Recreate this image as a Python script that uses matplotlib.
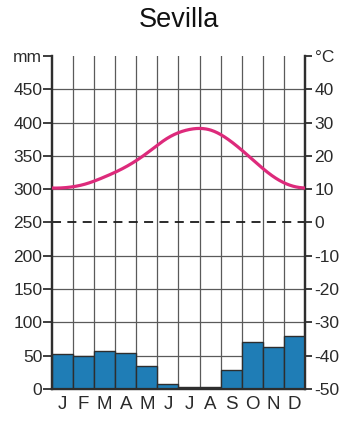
import numpy as np
import matplotlib
matplotlib.use("Agg")
import matplotlib.pyplot as plt

plt.rcParams["font.family"] = ["Liberation Sans", "DejaVu Sans"]

months = ["J", "F", "M", "A", "M", "J", "J", "A", "S", "O", "N", "D"]
precip = [52, 49, 57, 54, 35, 8, 3, 3, 28, 71, 63, 80]
temp = [10.4, 11.4, 13.7, 16.7, 20.8, 25.4, 27.9, 27.8, 24.3, 19.0, 13.8, 10.8]
mm_ticks = [0, 50, 100, 150, 200, 250, 300, 350, 400, 450, 500]
mm_labels = ["0", "50", "100", "150", "200", "250", "300", "350", "400", "450", "mm"]
c_ticks = [-50, -40, -30, -20, -10, 0, 10, 20, 30, 40, 50]
c_labels = ["-50", "-40", "-30", "-20", "-10", "0", "10", "20", "30", "40", "°C"]

txt = "#2a2a2a"
grid = "#5a5a5a"


def periodic_spline(y, xs):
    # periodic cubic spline through y at positions 0.5, 1.5, ...
    y = np.asarray(y, float)
    n = len(y)
    A = np.zeros((n, n))
    rhs = np.zeros(n)
    for i in range(n):
        A[i, (i - 1) % n] = 1
        A[i, i] = 4
        A[i, (i + 1) % n] = 1
        rhs[i] = 6 * (y[(i + 1) % n] - 2 * y[i] + y[(i - 1) % n])
    M = np.linalg.solve(A, rhs)
    u = xs - 0.5
    i = np.floor(u).astype(int)
    t = u - i
    i0 = i % n
    i1 = (i + 1) % n
    return ((1 - t) * y[i0] + t * y[i1]
            + ((1 - t) ** 3 - (1 - t)) * M[i0] / 6
            + (t ** 3 - t) * M[i1] / 6)


fig = plt.figure(figsize=(3.57, 4.24), dpi=100)
ax = fig.add_axes([0.1457, 0.0825, 0.7083, 0.7855])
ax2 = ax.twinx()

x = np.arange(12) + 0.5
ax.bar(x, precip, width=1.0, color="#1f7db6", edgecolor="#2e2e2e", linewidth=1.0, zorder=3)

# grid
for b in range(1, 12):
    ax.axvline(b, color=grid, lw=0.9, zorder=1)
for v in mm_ticks[1:-1]:
    if v != 250:
        ax.axhline(v, color=grid, lw=0.9, zorder=1)
ax.axhline(250, color="#1a1a1a", lw=1.3, ls=(0, (5, 3.5)), zorder=4)

xs = np.linspace(0, 12, 400)
ax2.plot(xs, periodic_spline(temp, xs), color="#dd2a7b", lw=2.3, zorder=5)

ax.set_xlim(0, 12)
ax.set_ylim(0, 500)
ax2.set_ylim(-50, 50)

ax.set_xticks(x)
ax.set_xticklabels(months, fontsize=13.5, color=txt)
ax.tick_params(axis="x", length=0, pad=5)
ax.set_yticks(mm_ticks)
ax.set_yticklabels(mm_labels, fontsize=12.5, color=txt)
ax.tick_params(axis="y", length=6.5, width=1.3, color="#2e2e2e", pad=0.5)
ax2.set_yticks(c_ticks)
ax2.set_yticklabels(c_labels, fontsize=12.5, color=txt)
ax2.tick_params(axis="y", length=5, width=1.3, color="#2e2e2e", pad=2)

for a in (ax, ax2):
    a.spines["top"].set_visible(False)
    for s in ("left", "right", "bottom"):
        a.spines[s].set_color("#2e2e2e")
        a.spines[s].set_linewidth(1.6)

fig.text(0.5, 0.936, "Sevilla", ha="center", va="baseline", fontsize=19.5, color="#111111")

fig.savefig("out.png", dpi=100)
